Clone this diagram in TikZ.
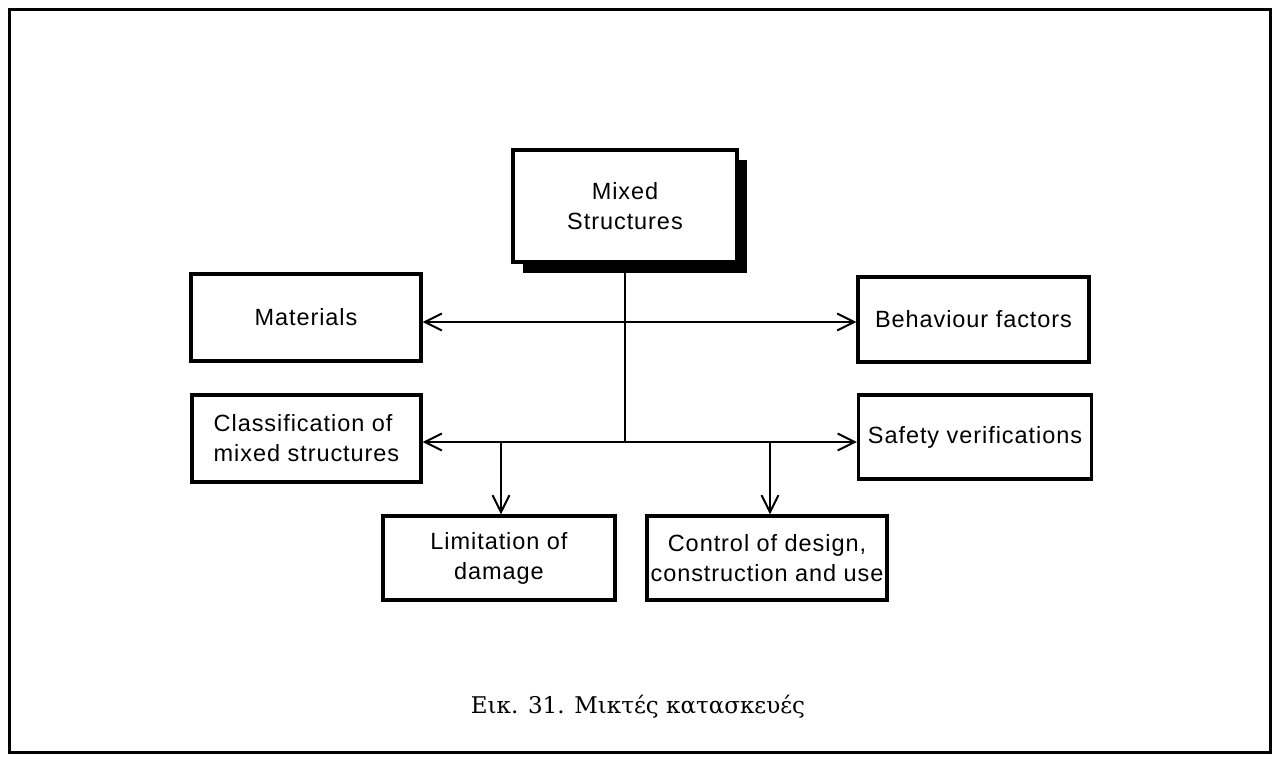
\documentclass[tikz,border=0pt]{standalone}
\usepackage{fontspec}
\setmainfont{Liberation Sans}
\newfontfamily\boxfont[LetterSpace=4]{Liberation Sans}
\newfontfamily\captionfont{DejaVu Serif}
\usetikzlibrary{arrows.meta}

\tikzset{
  blockbox/.style={draw, line width=3.2pt, fill=white, inner sep=0pt,
    font=\boxfont\fontsize{23.5}{30}\selectfont, align=center},
  link/.style={line width=2pt},
  arr/.style={link, -{Straight Barb[length=17pt, width=17pt, line width=2pt]}}
}

\begin{document}
\begin{tikzpicture}[x=1pt, y=-1pt]
  \useasboundingbox (0,0) rectangle (1275,756);
  % outer frame
  \draw[line width=3pt] (9,9) rectangle (1270,752);

  % top box with drop shadow
  \fill (523,160) rectangle (747,273);
  \node[blockbox, minimum width=224pt, minimum height=112pt] (mix) at (625,206) {Mixed\\Structures};

  % side boxes
  \node[blockbox, minimum width=230pt, minimum height=87pt] (mat) at (306,317.5) {Materials};
  \node[blockbox, minimum width=229pt, minimum height=87pt, align=left] (cls) at (306.5,438.5) {Classification of\\mixed structures};
  \node[blockbox, minimum width=231pt, minimum height=85pt] (beh) at (973.5,319.5) {Behaviour factors};
  \node[blockbox, minimum width=233pt, minimum height=84pt] (saf) at (975,437) {Safety verifications};

  % bottom boxes
  \node[blockbox, minimum width=232pt, minimum height=84pt] (lim) at (499,558) {Limitation of\\damage};
  \node[blockbox, minimum width=240pt, minimum height=84pt] (ctl) at (767,558) {Control of design,\\construction and use};

  % trunk and branch points
  \coordinate (up) at (625,322);
  \coordinate (low) at (625,442);
  \coordinate (bl) at (501,442);
  \coordinate (br) at (770,442);

  \draw[link] (mix.south) -- (low);
  \draw[arr] (up) -- (up -| mat.east);
  \draw[arr] (up) -- (up -| beh.west);
  \draw[arr] (low) -- (low -| cls.east);
  \draw[arr] (low) -- (low -| saf.west);
  \draw[arr] (bl) -- (bl |- lim.north);
  \draw[arr] (br) -- (br |- ctl.north);

  % caption
  \node[font=\captionfont\fontsize{23}{26}\selectfont] (cap) at (638,707) {Εικ. 31. Μικτές κατασκευές};
\end{tikzpicture}
\end{document}
